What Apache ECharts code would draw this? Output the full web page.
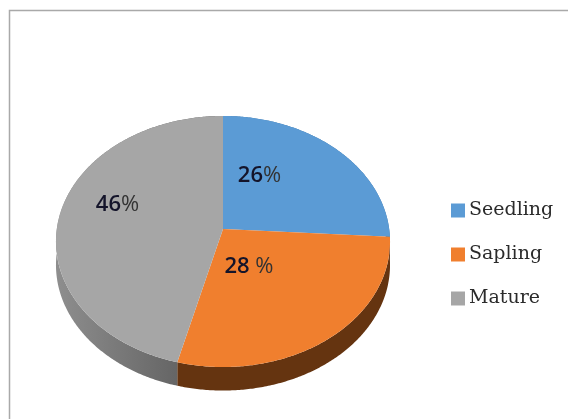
<!DOCTYPE html>
<html>
<head>
<meta charset="utf-8">
<style>html,body{margin:0;padding:0;background:#fff}#chart{width:568px;height:419px}</style>
<script src="https://cdn.jsdelivr.net/npm/echarts@6/dist/echarts.min.js"></script>
</head>
<body>
<div id="chart"></div>
<script>
const categories = ['Seedling', 'Sapling', 'Mature'];
const shares = [26, 28, 46];
const labelSpacers = ['', ' ', ''];
const topColors = ['#5B9BD5', '#F07F2E', '#A6A6A6'];

// Tilted disc: a projective view of the unit circle, so the hub sits above the ellipse centre.
const disc = { cx: 223, hubY: 229, a: 166.2, b: 124.3, k: 0.0996, depth: 23.5 };
const labelAnchors = [[259.5, 176], [249, 267], [117.5, 205]];

function project(theta) {
  const u = Math.sin(theta), v = Math.cos(theta), d = 1 + disc.k * v;
  return [disc.cx + disc.a * u / d, disc.hubY - disc.b * v / d];
}

function arcPoints(from, to) {
  const steps = Math.max(2, Math.ceil((to - from) / 0.01));
  const pts = [];
  for (let i = 0; i <= steps; i++) pts.push(project(from + (to - from) * i / steps));
  return pts;
}

const total = shares.reduce((s, v) => s + v, 0);
function sliceRange(index) {
  const before = shares.slice(0, index).reduce((s, v) => s + v, 0);
  return [before / total * 2 * Math.PI, (before + shares[index]) / total * 2 * Math.PI];
}

const wallFill = [
  '#3F76A8',
  '#653410',
  { type: 'linear', x: 0, y: 0, x2: 1, y2: 0, colorStops: [
    { offset: 0, color: '#8E8E8E' }, { offset: 1, color: '#565656' } ] }
];

// Side wall of every slice, drawn first so the top faces cover its upper part.
function renderWall(params, api) {
  const i = params.seriesIndex;
  const [from, to] = sliceRange(i);
  const arc = arcPoints(from, to);
  const lower = arc.map(p => [p[0], p[1] + disc.depth]).reverse();
  return { type: 'polygon', shape: { points: arc.concat(lower) }, style: { fill: wallFill[i] }, silent: true };
}

function renderTop(params, api) {
  const i = params.seriesIndex - categories.length;
  const [from, to] = sliceRange(i);
  const pts = [[disc.cx, disc.hubY]].concat(arcPoints(from, to));
  const value = api.value(0);
  return {
    type: 'group',
    children: [
      { type: 'polygon', shape: { points: pts }, style: { fill: topColors[i] } },
      {
        type: 'text', z2: 10,
        style: {
          x: labelAnchors[i][0], y: labelAnchors[i][1],
          text: '{n|' + value + '}{p|' + labelSpacers[i] + '%}',
          align: 'center', verticalAlign: 'middle',
          rich: {
            n: { fontFamily: 'Open Sans', fontSize: 22, fontWeight: 600, fill: '#14142a', color: '#14142a' },
            p: { fontFamily: 'Open Sans', fontSize: 22, fill: '#333333', color: '#333333' }
          }
        }
      }
    ]
  };
}

const wallSeries = categories.map((name, i) => ({
  type: 'custom', name: name + ' side', coordinateSystem: 'none', renderItem: renderWall,
  data: [[shares[i]]], silent: true, z: 1, itemStyle: { color: topColors[i] }
}));
const topSeries = categories.map((name, i) => ({
  type: 'custom', name, coordinateSystem: 'none', renderItem: renderTop,
  data: [[shares[i]]], z: 2, itemStyle: { color: topColors[i] }
}));

const chart = echarts.init(document.getElementById('chart'), null, { renderer: 'canvas' });
chart.setOption({
  animation: false,
  backgroundColor: '#ffffff',
  legend: {
    data: categories,
    orient: 'vertical',
    left: 451, top: 201,
    padding: 0,
    itemWidth: 14, itemHeight: 14, itemGap: 25,
    icon: 'rect',
    selectedMode: false,
    textStyle: { fontFamily: 'DejaVu Serif', fontSize: 19, lineHeight: 14, color: '#2b2b2b', padding: [0, 0, 0, -1] }
  },
  graphic: [{
    type: 'rect', silent: true,
    shape: { x: 9.5, y: 10.5, width: 570, height: 420 },
    style: { fill: 'none', stroke: '#a9a9a9', lineWidth: 1.5 }
  }],
  series: wallSeries.concat(topSeries)
});
</script>
</body>
</html>
